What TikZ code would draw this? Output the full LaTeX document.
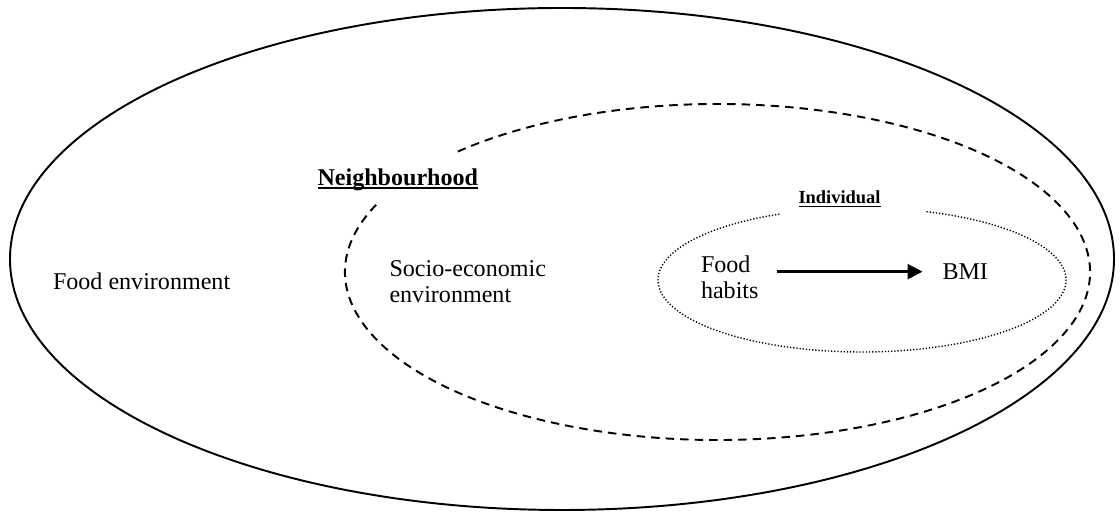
\documentclass[tikz,border=0pt]{standalone}
\usepackage{fontspec}
\setmainfont{Liberation Serif}
\usetikzlibrary{arrows.meta}

% bold label with a rule just under the baseline
\newcommand{\undertext}[2]{%
  \setbox0\hbox{#2}%
  \rlap{\rule[-2.1pt]{\wd0}{#1}}\box0}

\begin{document}
\begin{tikzpicture}[
    label text/.style={inner sep=0pt, outer sep=0pt, font=\fontsize{13.7}{15.1}\selectfont},
    level/.style={line width=1.1pt},
    neighbourhood/.style={line width=1.1pt, dash pattern=on 0.17cm off 0.12cm},
    individual/.style={line width=0.8pt, dash pattern=on 0.7pt off 1.1pt},
  ]
    \useasboundingbox (0, 0) rectangle (22.4, 10.26);

    % Food environment (outer level)
    \draw[level] (11.24, 5.08) ellipse [x radius=11.04, y radius=5.02];
    \node[label text, anchor=base west] (food) at (1.06, 4.47) {Food environment};

    % Neighbourhood (dashed, open where its label sits)
    \draw[neighbourhood] (14.35, 4.82) ++(156.4:7.45 and 3.36)
      arc [start angle=156.4, end angle=495.1, x radius=7.45, y radius=3.36];
    \node[label text, anchor=base west, font=\fontsize{13.7}{15.1}\selectfont\bfseries]
      (nbhd) at (6.35, 6.55) {\undertext{1pt}{Neighbourhood}};
    % base of a two line node sits on its last line
    \node[label text, anchor=base west, align=left] (socio) at (7.79, 4.20)
      {Socio-economic\\environment};

    % Individual (dotted, open where its label sits)
    \draw[individual] (17.24, 4.66) ++(113.9:4.08 and 1.44)
      arc [start angle=113.9, end angle=431.6, x radius=4.08, y radius=1.44];
    \node[label text, anchor=base west, font=\fontsize{10.5}{12}\selectfont\bfseries]
      (indiv) at (15.97, 6.19) {\undertext{0.8pt}{Individual}};

    % Food habits -> BMI
    \node[label text, anchor=base west, align=left] (habits) at (14.02, 4.28)
      {Food\\habits};
    \node[label text, anchor=base west] (bmi) at (18.85, 4.67) {BMI};
    \draw[line width=1.5pt, -{Triangle[length=0.3cm, width=0.3cm]},
      shorten <=0.37cm, shorten >=0.4cm] (habits.east |- bmi.west) -- (bmi.west);
\end{tikzpicture}
\end{document}
